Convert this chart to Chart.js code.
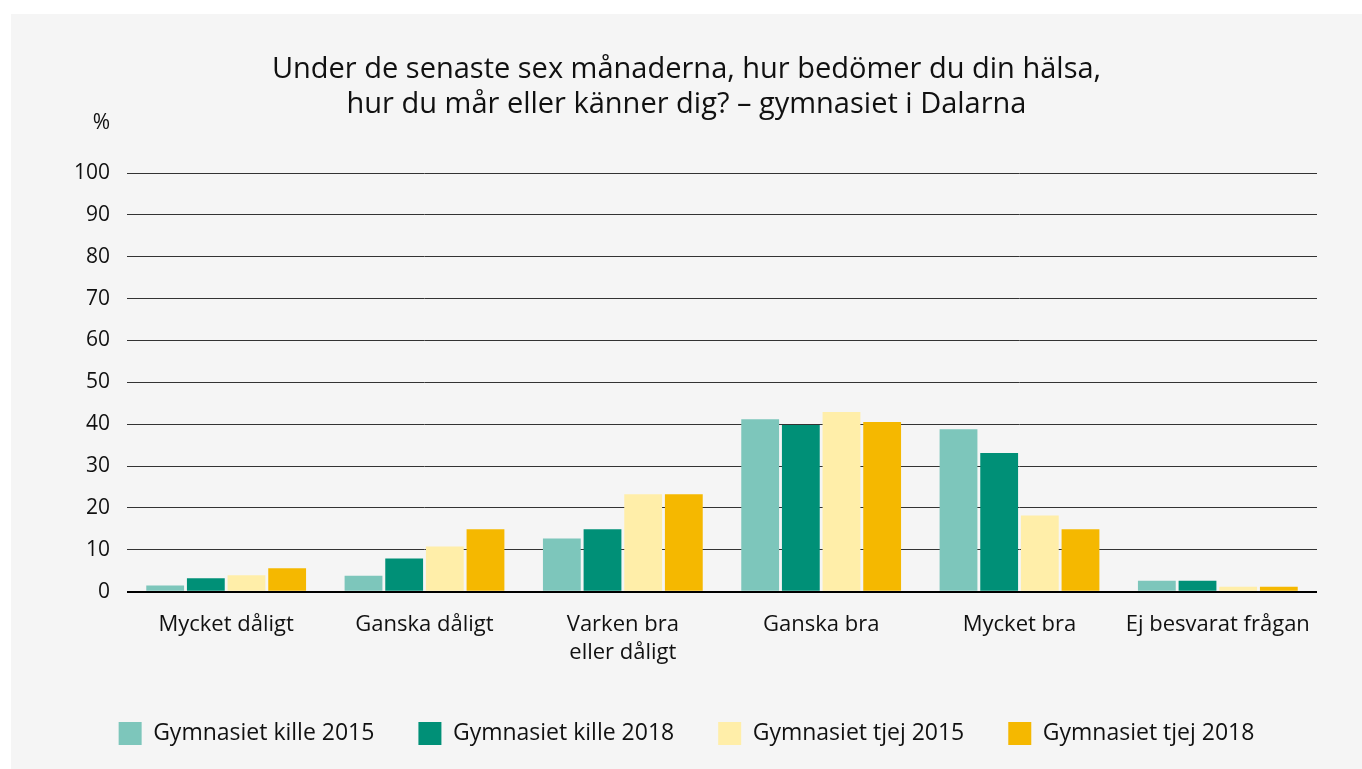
<!DOCTYPE html>
<html>
<head>
<meta charset="utf-8">
<script src="https://cdn.jsdelivr.net/npm/chart.js@4/dist/chart.umd.min.js"></script>
<style>
  html, body { margin: 0; padding: 0; background: #ffffff; }
  #wrap { position: absolute; left: 11px; top: 14px; width: 1351px; height: 755px; background: #f5f5f5; }
</style>
</head>
<body>
<div id="wrap"><canvas id="myChart" width="1351" height="755"></canvas></div>
<script>
var categories = ['Mycket dåligt', 'Ganska dåligt', ['Varken bra', 'eller dåligt'], 'Ganska bra', 'Mycket bra', 'Ej besvarat frågan'];
var kille2015 = [1.5, 3.8, 12.7, 41.2, 38.8, 2.6];
var kille2018 = [3.2, 7.9, 14.9, 39.8, 33.1, 2.6];
var tjej2015 = [3.9, 10.8, 23.3, 42.9, 18.2, 1.2];
var tjej2018 = [5.6, 14.9, 23.3, 40.5, 14.9, 1.2];
var yTicks = [0, 10, 20, 30, 40, 50, 60, 70, 80, 90, 100];

var fontName = '"Open Sans", Lato, sans-serif';

// "%" over the y axis
var percentLabel = {
    id: 'percentLabel',
    afterDraw: function(chart) {
        var c = chart.ctx;
        var y = chart.scales.y;
        c.save();
        c.font = '21px ' + fontName;
        c.fillStyle = '#111';
        c.textAlign = 'right';
        c.textBaseline = 'middle';
        c.fillText('%', chart.chartArea.left - 17, y.top - 50);
        c.restore();
    }
};

var ctx = document.getElementById('myChart');
var myChart = new Chart(ctx, {
    type: 'bar',
    data: {
        labels: categories,
        datasets: [
            { label: 'Gymnasiet kille 2015', data: kille2015, backgroundColor: '#7dc6bb' },
            { label: 'Gymnasiet kille 2018', data: kille2018, backgroundColor: '#009077' },
            { label: 'Gymnasiet tjej 2015', data: tjej2015, backgroundColor: '#ffeea9' },
            { label: 'Gymnasiet tjej 2018', data: tjej2018, backgroundColor: '#f5b800' }
        ]
    },
    options: {
        responsive: false,
        animation: false,
        devicePixelRatio: 1,
        categoryPercentage: 0.82,
        barPercentage: 0.93,
        layout: { padding: { left: 0, right: 0, bottom: 14 } },
        plugins: {
            title: {
                display: true,
                text: ['Under de senaste sex månaderna, hur bedömer du din hälsa,', 'hur du mår eller känner dig? – gymnasiet i Dalarna'],
                color: '#111',
                font: { family: fontName, size: 29, weight: 'normal', lineHeight: 1.207 },
                padding: { top: 38, bottom: 51 }
            },
            legend: {
                position: 'bottom',
                labels: {
                    boxWidth: 23,
                    boxHeight: 23,
                    padding: 44,
                    color: '#111',
                    font: { family: fontName, size: 23 }
                }
            },
            tooltip: { enabled: false }
        },
        scales: {
            x: {
                grid: { display: false },
                border: { display: false },
                ticks: {
                    color: '#111',
                    padding: 11,
                    maxRotation: 0,
                    autoSkip: false,
                    font: { family: fontName, size: 22, lineHeight: 1.28 }
                }
            },
            y: {
                min: 0,
                max: 100,
                afterFit: function(scale) { scale.width = 116; },
                afterBuildTicks: function(scale) {
                    scale.ticks = yTicks.map(function(v) { return { value: v }; });
                },
                border: { display: false },
                grid: {
                    drawTicks: false,
                    color: function(c) { return c.tick && c.tick.value === 0 ? '#000' : '#333'; },
                    lineWidth: function(c) { return c.tick && c.tick.value === 0 ? 2 : 1; }
                },
                ticks: {
                    color: '#111',
                    padding: 17,
                    font: { family: fontName, size: 21 }
                }
            },
            // empty right-hand axis, only keeps a margin right of the plot
            yRight: {
                position: 'right',
                min: 0,
                max: 100,
                afterFit: function(scale) { scale.width = 45; },
                grid: { display: false },
                border: { display: false },
                ticks: { display: false }
            }
        }
    },
    plugins: [percentLabel]
});
</script>
</body>
</html>
